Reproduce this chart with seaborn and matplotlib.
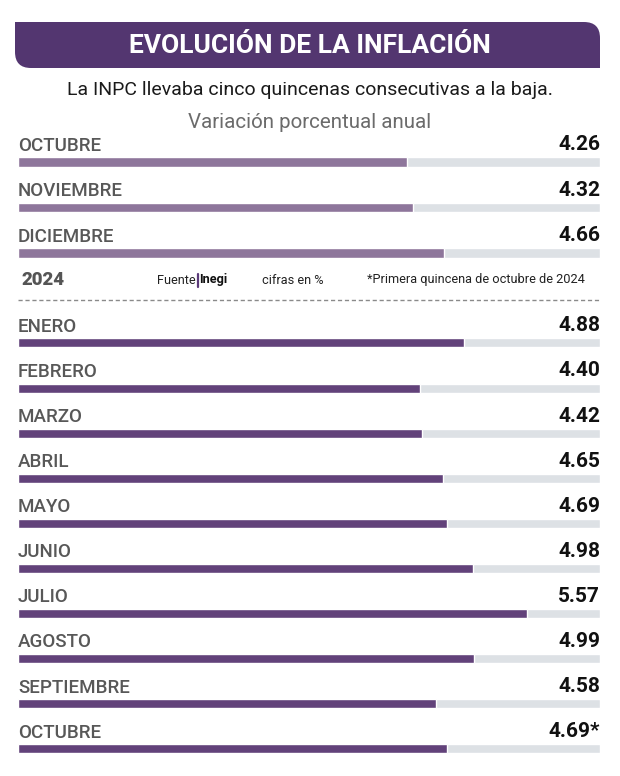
import pandas as pd
import matplotlib.pyplot as plt
import seaborn as sns
from matplotlib.patches import FancyBboxPatch, Rectangle


# Data
meses_2023 = ["OCTUBRE", "NOVIEMBRE", "DICIEMBRE"]
valores_2023 = [4.26, 4.32, 4.66]

meses_2024 = ["ENERO", "FEBRERO", "MARZO", "ABRIL", "MAYO", "JUNIO",
              "JULIO", "AGOSTO", "SEPTIEMBRE", "OCTUBRE"]
valores_2024 = [4.88, 4.40, 4.42, 4.65, 4.69, 4.98, 5.57, 4.99, 4.58, 4.69]
notas_2024 = ["", "", "", "", "", "", "", "", "", "*"]

XMAX = 6.37

sns.set_theme(style="white")
plt.rcParams["font.family"] = ["Roboto", "DejaVu Sans"]

fig = plt.figure(figsize=(6.2, 7.76), dpi=100)

# overlay in pixel coordinates for header / separators
bg = fig.add_axes([0, 0, 1, 1])
bg.set_xlim(0, 620)
bg.set_ylim(776, 0)
bg.axis("off")

band_color = "#533670"
band = FancyBboxPatch((15, 22), 585, 46, boxstyle="round,pad=0,rounding_size=16",
                      fc=band_color, ec="none")
bg.add_patch(band)
bg.add_patch(Rectangle((15, 22), 30, 20, fc=band_color, ec="none"))
bg.add_patch(Rectangle((570, 48), 30, 20, fc=band_color, ec="none"))
bg.text(310, 46, "EVOLUCIÓN DE LA INFLACIÓN", color="white", fontsize=19,
        fontweight="bold", ha="center", va="center")
bg.text(310, 90, "La INPC llevaba cinco quincenas consecutivas a la baja.",
        color="#1a1a1a", fontsize=14, ha="center", va="center")
bg.text(310, 122, "Variación porcentual anual", color="#6b6b6b", fontsize=14.8,
        ha="center", va="center")

# 2024 separator row
bg.text(22, 280, "2024", color="#555555", fontsize=13.5, fontweight="heavy",
        ha="left", va="center")
bg.text(195.5, 280, "Fuente", color="#222222", fontsize=9.2, ha="right", va="center")
bg.plot([197.5, 197.5], [274, 287], color="#5b3a7a", lw=1.6)
bg.text(199.5, 280, "Inegi", color="#111111", fontsize=9.2, fontweight="bold",
        ha="left", va="center")
bg.text(262, 280, "cifras en %", color="#222222", fontsize=9.2, ha="left", va="center")
bg.text(367, 280, "*Primera quincena de octubre de 2024", color="#222222",
        fontsize=9.2, ha="left", va="center")
bg.plot([18, 600], [300, 300], color="#8a8a8a", lw=1, ls=(0, (3, 2)))


def panel(rect, meses, valores, notas, color, ylim):
    ax = fig.add_axes(rect)
    df = pd.DataFrame({"mes": [f"{i}" for i in range(len(meses))], "valor": valores})
    sns.barplot(data=df.assign(valor=XMAX), x="valor", y="mes", orient="h",
                color="#dde1e5", width=0.2, saturation=1, ax=ax)
    sns.barplot(data=df, x="valor", y="mes", orient="h",
                color=color, width=0.2, saturation=1, ax=ax)
    for i, (m, v, n) in enumerate(zip(meses, valores, notas)):
        ax.text(0, i - 0.36, m, color="#585858", fontsize=13.5, fontweight="medium",
                ha="left", va="center")
        ax.text(XMAX, i - 0.38, f"{v:.2f}{n}", color="#111111", fontsize=15,
                fontweight="bold", ha="right", va="center")
    ax.set_xlim(0, XMAX)
    ax.set_ylim(*ylim)
    ax.axis("off")
    return ax


# top panel: 3 rows, bar centres at 162, 207.5, 253 px
panel([18 / 620, 1 - 271.2 / 776, 582 / 620, 150.2 / 776],
      meses_2023, valores_2023, ["", "", ""], "#8e769b", (2.4, -0.9))

# bottom panel: 10 rows, bar centres from 343 px spaced 45.1 px
panel([18 / 620, 1 - 766.9 / 776, 582 / 620, 464.5 / 776],
      meses_2024, valores_2024, notas_2024, "#62427a", (9.4, -0.9))

fig.savefig("out.png", dpi=100)
